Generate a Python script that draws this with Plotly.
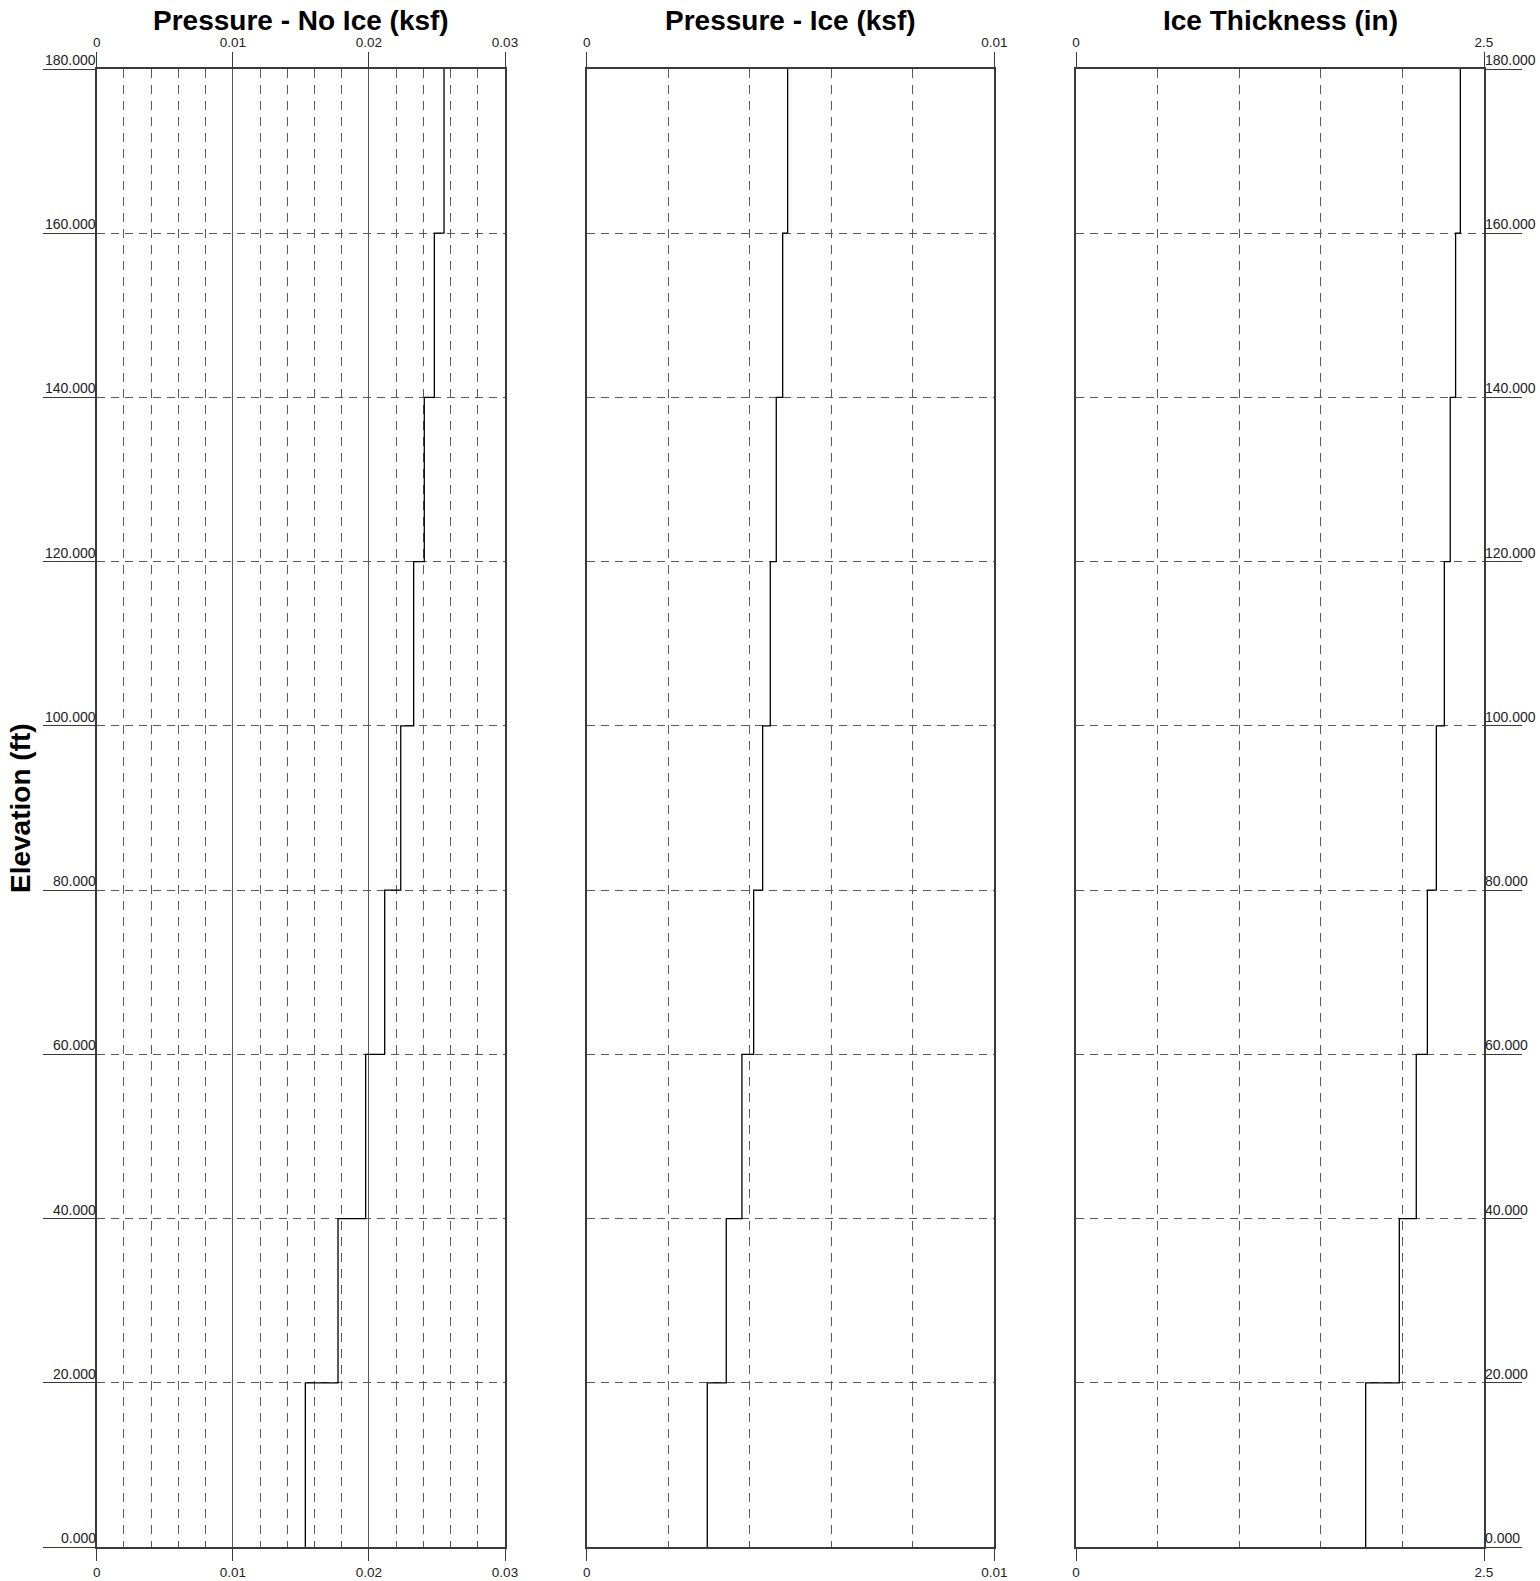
import plotly.graph_objects as go

# ---- data ----
elev_bounds = [0, 20, 40, 60, 80, 100, 120, 140, 160, 180]
pressure_no_ice = [0.01533, 0.01773, 0.01976, 0.02116, 0.02234, 0.02329, 0.02407, 0.02481, 0.02552]
pressure_ice = [0.002958, 0.003424, 0.003809, 0.004096, 0.004317, 0.004504, 0.004651, 0.004808, 0.004930]
ice_thickness = [1.775, 1.981, 2.085, 2.153, 2.208, 2.257, 2.293, 2.326, 2.355]
panel_titles = ["Pressure - No Ice (ksf)", "Pressure - Ice (ksf)", "Ice Thickness (in)"]
x_ranges = [[0, 0.03], [0, 0.01], [0, 2.5]]
x_major = [0.01, 0.01, 2.5]
x_minor = [0.002, 0.002, 0.5]
y_ticks = [0, 20, 40, 60, 80, 100, 120, 140, 160, 180]
y_tick_labels = [f"{v:.3f}" for v in y_ticks]

W, H = 1540, 1581
x_dom = [[96.7 / W, 505 / W], [586.7 / W, 994.3 / W], [1076 / W, 1484 / W]]
y_dom = [(H - 1547) / H, (H - 69) / H]

FONT = "Liberation Sans, Arial, sans-serif"
AXC = "#3a3a3a"
GRIDC = "#5a5a5a"
XTICK_FS = 13.5
YLAB_FS = 14


def step_xy(vals):
    xs, ys = [], []
    for i, v in enumerate(vals):
        xs += [v, v]
        ys += [elev_bounds[i], elev_bounds[i + 1]]
    return xs, ys


fig = go.Figure()
series = [pressure_no_ice, pressure_ice, ice_thickness]
for i, vals in enumerate(series):
    xs, ys = step_xy(vals)
    xa = "x" if i == 0 else f"x{i+1}"
    ya = "y" if i == 0 else f"y{i+1}"
    fig.add_trace(go.Scatter(x=xs, y=ys, mode="lines", xaxis=xa, yaxis=ya,
                             line=dict(color="black", width=1.3),
                             showlegend=False, hoverinfo="skip"))
    # companion trace for top axis
    fig.add_trace(go.Scatter(x=xs, y=ys, mode="lines", xaxis=f"x{i+4}", yaxis=ya,
                             line=dict(color="black", width=1.3), opacity=0,
                             showlegend=False, hoverinfo="skip"))

layout = dict(width=W, height=H, margin=dict(l=0, r=0, t=0, b=0, autoexpand=False),
              autosize=False,
              paper_bgcolor="white", plot_bgcolor="white",
              font=dict(family=FONT, size=XTICK_FS, color="#222"))

for i in range(3):
    n = "" if i == 0 else str(i + 1)
    grid_major = (i == 0)
    xbase = dict(range=x_ranges[i], domain=x_dom[i], tick0=0, dtick=x_major[i],
                 tickmode="linear", ticks="outside", tickwidth=1.2,
                 tickcolor=AXC, showline=True, linecolor=AXC, linewidth=1.5,
                 zeroline=False, tickfont=dict(size=XTICK_FS, color="#222", family=FONT),
                 showgrid=grid_major, gridcolor=GRIDC, gridwidth=1.2, automargin=False)
    layout[f"xaxis{n}"] = dict(**xbase, side="bottom", anchor=f"y{n}", mirror=True,
                               ticklen=12,
                               minor=dict(dtick=x_minor[i], tick0=0, showgrid=True,
                                          griddash="9px,7px", gridcolor=GRIDC,
                                          gridwidth=1.2, ticks=""))
    layout[f"xaxis{i+4}"] = dict(**xbase, side="top", anchor=f"y{n}", ticklen=15,
                                 overlaying=f"x{n}", matches=f"x{n}")
    ybase = dict(range=[0, 180], domain=y_dom, tick0=0, dtick=20, tickmode="linear",
                 showticklabels=False, showline=True, mirror=True, linecolor=AXC,
                 linewidth=1.5, zeroline=False, showgrid=True, gridcolor=GRIDC,
                 gridwidth=1.2, griddash="8px,6px", anchor=f"x{n}", automargin=False)
    if i == 0:
        ybase.update(ticks="outside", ticklen=52, tickcolor=AXC, tickwidth=1.2, side="left")
    elif i == 2:
        ybase.update(ticks="outside", ticklen=36, tickcolor=AXC, tickwidth=1.2, side="right")
    else:
        ybase.update(ticks="")
    layout[f"yaxis{n}"] = ybase

annotations = []
for i, t in enumerate(panel_titles):
    annotations.append(dict(text=f"<b>{t}</b>", xref="paper", yref="paper",
                            x=(x_dom[i][0] + x_dom[i][1]) / 2, y=1 - 20 / H,
                            xanchor="center", yanchor="middle", showarrow=False,
                            font=dict(size=28, family=FONT, color="black")))
annotations.append(dict(text="<b>Elevation (ft)</b>", xref="paper", yref="paper",
                        x=20 / W, y=(y_dom[0] + y_dom[1]) / 2, textangle=-90,
                        xanchor="center", yanchor="middle", showarrow=False,
                        font=dict(size=28, family=FONT, color="black")))
for v, lab in zip(y_ticks, y_tick_labels):
    annotations.append(dict(text=lab, xref="paper", yref="y", x=x_dom[0][0], y=v,
                            xanchor="right", yanchor="bottom", showarrow=False,
                            borderpad=0, font=dict(size=YLAB_FS, family=FONT, color="#222")))
    annotations.append(dict(text=lab, xref="paper", yref="y3", x=x_dom[2][1], y=v,
                            xanchor="left", yanchor="bottom", showarrow=False,
                            borderpad=0, font=dict(size=YLAB_FS, family=FONT, color="#222")))
layout["annotations"] = annotations

fig.update_layout(**layout)
fig.write_html("out.html")
